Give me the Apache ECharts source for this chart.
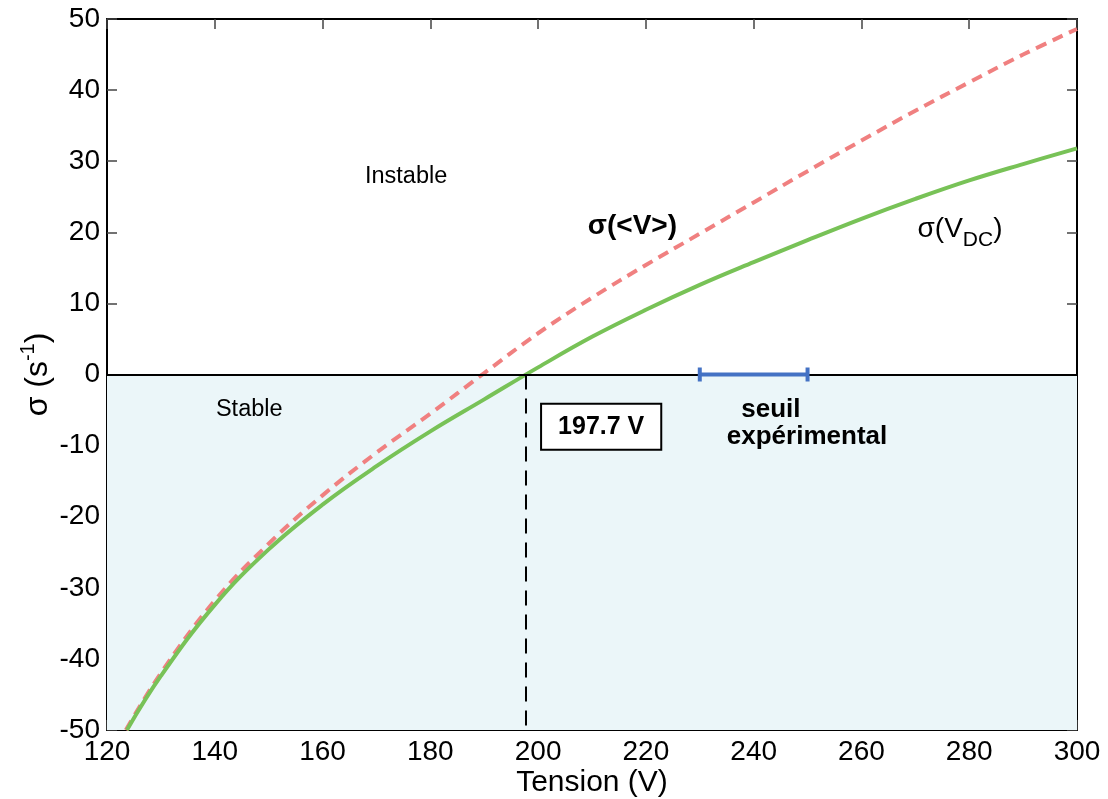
<!DOCTYPE html>
<html>
<head>
<meta charset="utf-8">
<script src="https://cdn.jsdelivr.net/npm/echarts@6/dist/echarts.min.js"></script>
<style>
html, body { margin: 0; padding: 0; background: #fff; }
#chart { width: 1108px; height: 799px; }
</style>
</head>
<body>
<div id="chart"></div>
<script>
// courbe sigma(V_DC) - trait plein vert
var tensionDC = [123.7, 130, 140, 150, 160, 170, 180, 190, 200, 210, 220, 230, 240, 250, 260, 270, 280, 290, 300];
var sigmaDC   = [-50, -42.4, -32.4, -24.6, -18.3, -12.9, -8.0, -3.5, 1.0, 5.3, 9.1, 12.6, 15.8, 18.9, 21.9, 24.7, 27.3, 29.6, 31.8];

// courbe sigma(<V>) - tirets roses
var tensionMoy = [123.5, 130, 140, 150, 160, 170, 180, 190, 200, 210, 220, 230, 240, 250, 260, 270, 280, 290, 300];
var sigmaMoy   = [-50, -42.0, -31.8, -23.8, -17.0, -11.0, -5.5, 0.2, 5.8, 10.8, 15.4, 19.8, 24.2, 28.6, 32.9, 37.1, 41.1, 45.0, 48.6];

var seuilTheorique = 197.7;
var seuilExp = [230, 250];

var xMin = 120, xMax = 300, xStep = 20;
var yMin = -50, yMax = 50, yStep = 10;

var FONT = "'Liberation Sans', Arial, sans-serif";

function pairs(xs, ys) {
    var out = [];
    for (var i = 0; i < xs.length; i++) out.push([xs[i], ys[i]]);
    return out;
}

var chart = echarts.init(document.getElementById('chart'));

var axisX = {
    type: 'value', min: xMin, max: xMax, interval: xStep,
    axisLine: { show: true, onZero: false, lineStyle: { color: '#000', width: 2 } },
    axisTick: { show: true, inside: true, length: 10, lineStyle: { color: '#444', width: 1.5 } },
    splitLine: { show: false }
};
var axisY = {
    type: 'value', min: yMin, max: yMax, interval: yStep,
    axisLine: { show: true, onZero: false, lineStyle: { color: '#000', width: 2 } },
    axisTick: { show: true, inside: true, length: 10, lineStyle: { color: '#444', width: 1.5 } },
    splitLine: { show: false }
};

var option = {
    animation: false,
    backgroundColor: '#fff',
    grid: { left: 107, right: 31, top: 19, bottom: 69, containLabel: false, outerBoundsMode: 'none' },
    xAxis: [
        Object.assign({}, axisX, {
            position: 'bottom',
            name: 'Tension (V)', nameLocation: 'middle', nameGap: 38, nameMoveOverlap: false,
            nameTextStyle: { fontFamily: FONT, fontSize: 30, color: '#000' },
            axisLabel: { margin: 8, fontFamily: FONT, fontSize: 28, color: '#000' }
        }),
        Object.assign({}, axisX, { position: 'top', axisLabel: { show: false } })
    ],
    yAxis: [
        Object.assign({}, axisY, {
            position: 'left',
            name: 'σ (s{sup|-1})', nameLocation: 'middle', nameGap: 49, nameMoveOverlap: false,
            nameTextStyle: {
                fontFamily: FONT, fontSize: 32, color: '#000', lineHeight: 40,
                rich: { sup: { fontFamily: FONT, fontSize: 20, color: '#000', verticalAlign: 'top', lineHeight: 20 } }
            },
            axisLabel: { margin: 7, fontFamily: FONT, fontSize: 28, color: '#000' }
        }),
        Object.assign({}, axisY, { position: 'right', axisLabel: { show: false } })
    ],
    series: [
        {
            name: 'zone',
            type: 'line',
            data: [],
            silent: true,
            markArea: {
                silent: true,
                itemStyle: { color: '#EBF6F9' },
                data: [[{ yAxis: yMin }, { yAxis: 0 }]]
            },
            markLine: {
                silent: true,
                symbol: 'none',
                label: { show: false },
                data: [
                    { yAxis: 0, lineStyle: { color: '#000', width: 2, type: 'solid' } },
                    [
                        { coord: [seuilTheorique, 0], lineStyle: { color: '#000', width: 2, type: [15, 9] } },
                        { coord: [seuilTheorique, yMin] }
                    ]
                ]
            }
        },
        {
            name: 'σ(<V>)',
            type: 'line',
            data: pairs(tensionMoy, sigmaMoy),
            smooth: 0.4,
            showSymbol: false,
            lineStyle: { color: '#F08080', width: 4, type: [11, 7] },
            z: 3
        },
        {
            name: 'σ(VDC)',
            type: 'line',
            data: pairs(tensionDC, sigmaDC),
            smooth: 0.4,
            showSymbol: false,
            lineStyle: { color: '#78C257', width: 4 },
            z: 4
        },
        {
            name: 'seuil',
            type: 'custom',
            data: [[seuilExp[0], seuilExp[1], 0]],
            z: 5,
            renderItem: function (params, api) {
                var a = api.coord([api.value(0), api.value(2)]);
                var b = api.coord([api.value(1), api.value(2)]);
                var st = { stroke: '#4472C4', lineWidth: 4 };
                return {
                    type: 'group',
                    children: [
                        { type: 'line', shape: { x1: a[0], y1: a[1], x2: b[0], y2: b[1] }, style: st },
                        { type: 'line', shape: { x1: a[0], y1: a[1] - 7, x2: a[0], y2: a[1] + 7 }, style: st },
                        { type: 'line', shape: { x1: b[0], y1: b[1] - 7, x2: b[0], y2: b[1] + 7 }, style: st }
                    ]
                };
            }
        }
    ]
};

chart.setOption(option);

// annotations placées en coordonnées des données
function txt(pos, text, font, extra) {
    var p = chart.convertToPixel({ gridIndex: 0 }, pos);
    var s = Object.assign({
        text: text, x: p[0], y: p[1], fill: '#000',
        font: font, align: 'center', verticalAlign: 'middle'
    }, extra || {});
    return { type: 'text', z: 10, style: s };
}

chart.setOption({
    graphic: [
        txt([175.5, 27.9], 'Instable', '23.5px ' + FONT),
        txt([146.4, -4.9], 'Stable', '23.5px ' + FONT),
        txt([211.7, -7.35], '197.7 V', 'bold 25px ' + FONT, {
            backgroundColor: '#fff', borderColor: '#000', borderWidth: 2, padding: [10, 16, 9, 16]
        }),
        txt([243.2, -5.0], 'seuil', 'bold 26px ' + FONT),
        txt([249.9, -8.8], 'expérimental', 'bold 26px ' + FONT),
        txt([217.5, 20.8], 'σ(<V>)', 'bold 28px ' + FONT),
        txt([278.3, 20.4], '{b|σ(V}{s|DC}{b|)}', '28px ' + FONT, {
            rich: {
                b: { font: '28px ' + FONT, fill: '#000', lineHeight: 42 },
                s: { font: '21px ' + FONT, fill: '#000', lineHeight: 20, verticalAlign: 'bottom' }
            }
        })
    ]
});
</script>
</body>
</html>
